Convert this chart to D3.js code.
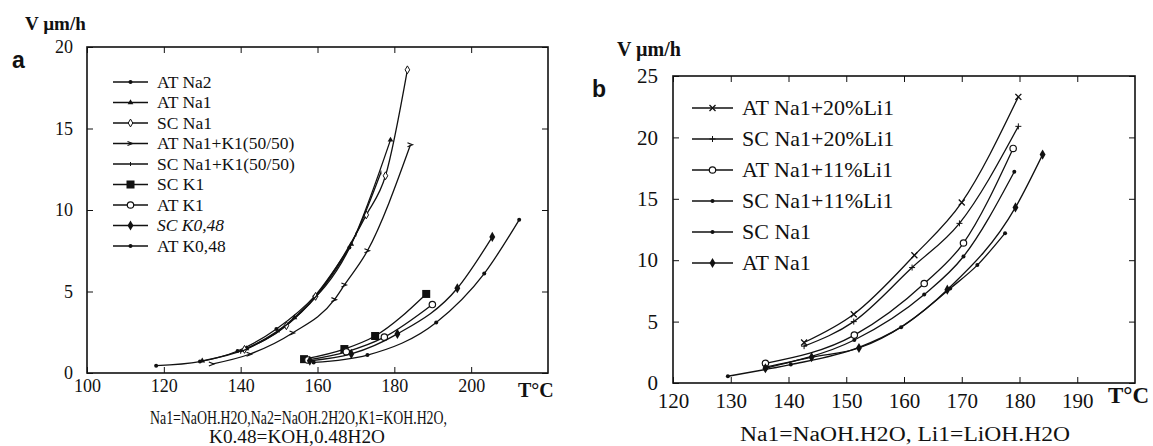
<!DOCTYPE html>
<html>
<head>
<meta charset="utf-8">
<script src="https://cdn.jsdelivr.net/npm/d3@7"></script>
<style>
  body { margin: 0; background: #fff; }
  svg text { fill: #111; }
</style>
</head>
<body>
<script>
// panel a : growth rate V (um/h) versus T (C)
var aLabels = ["AT Na2", "AT Na1", "SC Na1", "AT Na1+K1(50/50)", "SC Na1+K1(50/50)",
               "SC K1", "AT K1", "SC K0,48", "AT K0,48"];
var aMarkers = ["dot", "tri", "odiamond", "arrow", "tick", "square", "ocircle", "diamond", "dot"];
var aXTicks = [100, 120, 140, 160, 180, 200];
var aYTicks = [0, 5, 10, 15, 20];

var atNa2 = [[118, 0.45], [129.4, 0.7], [139.2, 1.35], [149.3, 2.7], [159.2, 4.7], [168.3, 7.7]];
var atNa1 = [[130, 0.75], [141.5, 1.5], [154, 3.4], [168.8, 7.9], [179, 14.3]];
var scNa1 = [[141, 1.45], [151.9, 2.9], [159.5, 4.7], [172.7, 9.7], [177.7, 12.1], [183.4, 18.6]];
var atNa1K1 = [[132.5, 0.55], [142.3, 1.15], [153.5, 2.45], [164.4, 4.5], [167, 5.4], [173, 7.5], [184.2, 14.0]];
var scNa1K1 = [[140, 1.3], [150, 2.6], [160, 4.8], [170, 8.5], [176.5, 12.3]];
var scK1 = [[156.5, 0.85], [167, 1.47], [175, 2.27], [188.3, 4.85]];
var atK1 = [[157.5, 0.8], [167.5, 1.3], [177.4, 2.2], [189.9, 4.2]];
var scK048 = [[158, 0.75], [168.8, 1.17], [180.8, 2.4], [196.4, 5.2], [205.5, 8.35]];
var atK048 = [[159, 0.65], [173, 1.1], [190.9, 3.1], [203.4, 6.1], [212.5, 9.4]];
var aSeries = [atNa2, atNa1, scNa1, atNa1K1, scNa1K1, scK1, atK1, scK048, atK048];

// panel b
var bLabels = ["AT Na1+20%Li1", "SC Na1+20%Li1", "AT Na1+11%Li1", "SC Na1+11%Li1", "SC Na1", "AT Na1"];
var bMarkers = ["cross", "plus", "ocircle", "dot", "dot", "diamond"];
var bXTicks = [120, 130, 140, 150, 160, 170, 180, 190];
var bYTicks = [0, 5, 10, 15, 20, 25];

var atLi20 = [[142.7, 3.3], [151.3, 5.6], [161.8, 10.4], [170, 14.7], [179.8, 23.3]];
var scLi20 = [[142.7, 3.0], [151.3, 5.0], [161.4, 9.4], [169.6, 13.0], [179.8, 20.9]];
var atLi11 = [[136, 1.6], [151.4, 3.9], [163.5, 8.1], [170.3, 11.4], [178.9, 19.1]];
var scLi11 = [[136, 1.3], [151.4, 3.5], [163.5, 7.2], [170.3, 10.3], [179.1, 17.2]];
var bScNa1 = [[129.5, 0.55], [136, 1.1], [140.4, 1.5], [152.2, 2.9], [159.5, 4.55], [168, 7.7], [172.7, 9.6], [177.5, 12.2]];
var bAtNa1 = [[136, 1.2], [144, 2.1], [152.2, 2.85], [167.5, 7.6], [179.3, 14.3], [184, 18.6]];
var bSeries = [atLi20, scLi20, atLi11, scLi11, bScNa1, bAtNa1];

var serif = "'Liberation Serif', 'DejaVu Serif', serif";
var sans = "'Liberation Sans', Arial, sans-serif";

var svg = d3.select("body").append("svg")
    .attr("width", 1153)
    .attr("height", 446);

// draw a marker shape at px,py
function marker(g, type, px, py) {
  if (type == "dot") {
    g.append("circle").attr("cx", px).attr("cy", py).attr("r", 2).attr("fill", "#111");
  } else if (type == "tri") {
    g.append("path").attr("d", d3.symbol(d3.symbolTriangle, 14)()).attr("transform", "translate(" + px + "," + py + ")").attr("fill", "#111");
  } else if (type == "odiamond") {
    g.append("path").attr("d", d3.symbol(d3.symbolDiamond, 18)()).attr("transform", "translate(" + px + "," + py + ")").attr("fill", "#fff").attr("stroke", "#111");
  } else if (type == "arrow") {
    g.append("path").attr("d", "M-3,-2L2,0L-3,2").attr("transform", "translate(" + px + "," + py + ")").attr("fill", "none").attr("stroke", "#111").attr("stroke-width", 1.2);
  } else if (type == "tick") {
    g.append("line").attr("x1", px).attr("x2", px).attr("y1", py - 2).attr("y2", py + 2).attr("stroke", "#111");
  } else if (type == "square") {
    g.append("rect").attr("x", px - 4).attr("y", py - 4).attr("width", 8).attr("height", 8).attr("fill", "#111");
  } else if (type == "ocircle") {
    g.append("circle").attr("cx", px).attr("cy", py).attr("r", 3.2).attr("fill", "#fff").attr("stroke", "#111").attr("stroke-width", 1.2);
  } else if (type == "diamond") {
    g.append("path").attr("d", d3.symbol(d3.symbolDiamond, 30)()).attr("transform", "translate(" + px + "," + py + ")").attr("fill", "#111");
  } else if (type == "cross") {
    g.append("path").attr("d", "M-3,-3L3,3M-3,3L3,-3").attr("transform", "translate(" + px + "," + py + ")").attr("stroke", "#111").attr("stroke-width", 1.3);
  } else if (type == "plus") {
    g.append("path").attr("d", "M-3,0L3,0M0,-3L0,3").attr("transform", "translate(" + px + "," + py + ")").attr("stroke", "#111").attr("stroke-width", 1);
  }
}

function styleAxis(a, size) {
  a.select(".domain").remove();
  a.attr("font-family", null).attr("font-size", null);
  a.selectAll("text").attr("font-family", serif).attr("font-size", size).attr("fill", "#111");
  a.selectAll("line").attr("stroke", "#111");
}

function panel(opt) {
  var x = d3.scaleLinear().domain(opt.xDomain).range([opt.left, opt.right]);
  var y = d3.scaleLinear().domain(opt.yDomain).range([opt.bottom, opt.top]);
  var g = svg.append("g");

  // axes, ticks pointing inside
  g.append("g").attr("transform", "translate(0," + opt.bottom + ")")
    .call(d3.axisBottom(x).tickValues(opt.xTicks).tickSize(-6).tickPadding(opt.xPad).tickFormat(d3.format("d")))
    .call(styleAxis, opt.tickFont);
  g.append("g").attr("transform", "translate(0," + opt.top + ")")
    .call(d3.axisTop(x).tickValues(opt.xTicks).tickSize(-6).tickFormat(""))
    .call(styleAxis, opt.tickFont);
  g.append("g").attr("transform", "translate(" + opt.left + ",0)")
    .call(d3.axisLeft(y).tickValues(opt.yTicks).tickSize(-6).tickPadding(opt.yPad).tickFormat(d3.format("d")))
    .call(styleAxis, opt.tickFont);
  g.append("g").attr("transform", "translate(" + opt.right + ",0)")
    .call(d3.axisRight(y).tickValues(opt.yTicks).tickSize(-6).tickFormat(""))
    .call(styleAxis, opt.tickFont);

  g.append("rect")
    .attr("x", opt.left).attr("y", opt.top)
    .attr("width", opt.right - opt.left).attr("height", opt.bottom - opt.top)
    .attr("fill", "none").attr("stroke", "#111").attr("stroke-width", 1.6);

  var line = d3.line()
    .x(function(d) { return x(d[0]); })
    .y(function(d) { return y(d[1]); })
    .curve(d3.curveMonotoneX);

  opt.series.forEach(function(s, i) {
    g.append("path").datum(s).attr("d", line)
      .attr("fill", "none").attr("stroke", "#111").attr("stroke-width", 1.3);
    s.forEach(function(d) { marker(g, opt.markers[i], x(d[0]), y(d[1])); });
  });

  // legend
  opt.labels.forEach(function(l, i) {
    var ly = opt.legY + i * opt.legStep;
    g.append("line").attr("x1", opt.legX).attr("x2", opt.legX + opt.legLen)
      .attr("y1", ly).attr("y2", ly).attr("stroke", "#111").attr("stroke-width", 1.3);
    marker(g, opt.markers[i], opt.legX + opt.legLen / 2, ly);
    g.append("text").attr("x", opt.legX + opt.legLen + 9).attr("y", ly + opt.legFont * 0.33)
      .attr("font-family", serif)
      .attr("font-size", opt.legFont)
      .attr("font-style", l.indexOf("SC K0") == 0 ? "italic" : "normal")
      .text(l);
  });
  return g;
}

panel({
  xDomain: [100, 220], yDomain: [0, 20],
  left: 87, right: 548, top: 47, bottom: 373,
  xTicks: aXTicks, yTicks: aYTicks, xPad: 6, yPad: 14, tickFont: 18,
  series: aSeries, markers: aMarkers, labels: aLabels,
  legX: 113, legLen: 35, legY: 82, legStep: 20.5, legFont: 17.5
});

panel({
  xDomain: [120, 200], yDomain: [0, 25],
  left: 673, right: 1135, top: 76, bottom: 383,
  xTicks: bXTicks, yTicks: bYTicks, xPad: 10, yPad: 15, tickFont: 21,
  series: bSeries, markers: bMarkers, labels: bLabels,
  legX: 692, legLen: 41, legY: 108, legStep: 31, legFont: 22
});

// titles and captions
function label(px, py, size, weight, txt, fam) {
  return svg.append("text").attr("x", px).attr("y", py)
    .attr("font-family", fam || serif).attr("font-size", size).attr("font-weight", weight).text(txt);
}
label(25, 30, 19, "bold", "V \u00b5m/h");
label(617, 56, 20, "bold", "V \u00b5m/h");
label(12, 68, 23, "bold", "a", sans);
label(592, 97, 23, "bold", "b", sans);
label(518, 397, 20, "bold", "T\u00b0C");
label(1108, 403, 23, "bold", "T\u00b0C");

label(150, 424, 18, "normal", "Na1=NaOH.H2O,Na2=NaOH.2H2O,K1=KOH.H2O,")
  .attr("textLength", 297).attr("lengthAdjust", "spacingAndGlyphs");
label(209, 443, 18, "normal", "K0.48=KOH,0.48H2O")
  .attr("textLength", 176).attr("lengthAdjust", "spacingAndGlyphs");
label(740, 441, 20, "normal", "Na1=NaOH.H2O, Li1=LiOH.H2O")
  .attr("textLength", 330).attr("lengthAdjust", "spacingAndGlyphs");
</script>
</body>
</html>
